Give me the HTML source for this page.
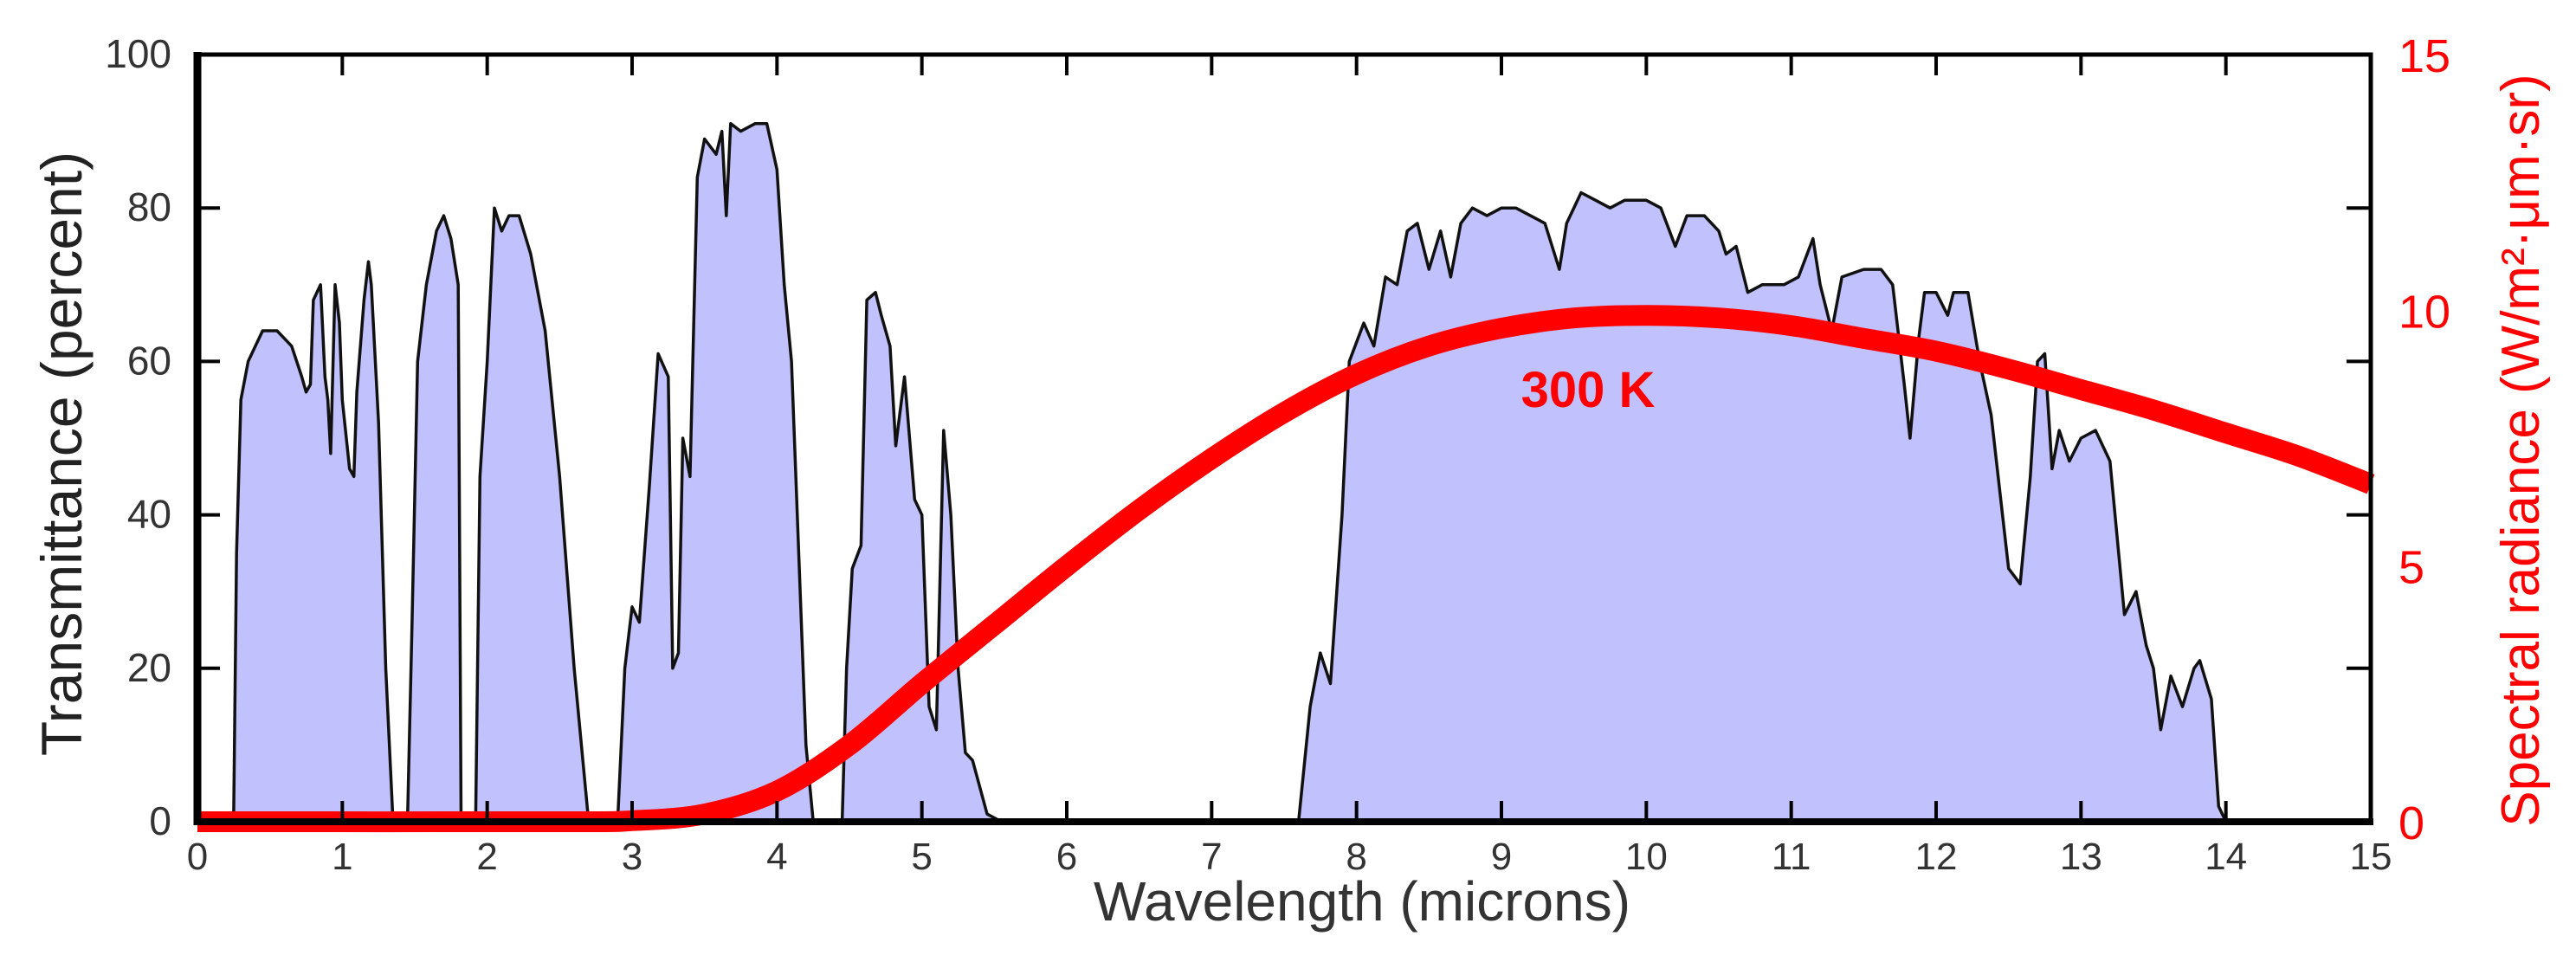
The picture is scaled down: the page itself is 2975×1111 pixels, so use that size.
<!DOCTYPE html>
<html><head><meta charset="utf-8"><style>
html,body{margin:0;padding:0;background:#fff}
svg{display:block}
text{font-family:"Liberation Sans",Arial,sans-serif}
</style></head><body>
<svg id="chart" width="2975" height="1111" viewBox="0 0 2975 1111" xmlns="http://www.w3.org/2000/svg">
<g id="plot"></g>
<g id="axes"></g>
<text x="0" y="0" transform="translate(94,524) rotate(-90)" text-anchor="middle" font-size="66" fill="#222">Transmittance (percent)</text>
<text x="1573" y="1063" text-anchor="middle" font-size="64" fill="#333">Wavelength (microns)</text>
<text transform="translate(2932,520) rotate(-90)" text-anchor="middle" font-size="62" fill="#ff0000">Spectral radiance (W/m²·μm·sr)</text>
<text x="1834" y="470" text-anchor="middle" font-size="58" font-weight="bold" fill="#ff0000">300 K</text>
</svg>
<script>
const transWl = [0,0.25,0.27,0.3,0.35,0.45,0.55,0.65,0.72,0.75,0.78,0.8,0.85,0.88,0.9,0.92,0.95,0.98,1.0,1.05,1.08,1.1,1.15,1.18,1.2,1.25,1.3,1.35,
1.45,1.48,1.52,1.58,1.65,1.7,1.75,1.8,1.82,
1.92,1.95,2.0,2.05,2.1,2.15,2.22,2.3,2.4,2.5,2.6,2.7,
2.9,2.95,3.0,3.05,3.12,3.18,3.25,3.28,3.32,3.35,3.4,3.45,3.5,3.58,3.62,3.65,3.68,3.75,3.85,3.93,4.0,4.05,4.1,4.2,4.25,
4.45,4.48,4.52,4.58,4.62,4.68,4.72,4.78,4.82,4.88,4.95,5.0,5.05,5.1,5.15,5.2,5.25,5.3,5.35,5.45,5.55,
7.6,7.68,7.75,7.82,7.9,7.95,8.05,8.12,8.2,8.28,8.35,8.42,8.5,8.58,8.65,8.72,8.8,8.9,9.0,9.1,9.2,9.3,9.4,9.45,9.55,9.65,9.75,9.85,10.0,10.1,10.2,10.28,10.4,10.5,10.55,10.62,10.7,10.8,10.95,11.05,11.15,11.2,11.28,11.35,11.5,11.62,11.7,11.78,11.82,11.88,11.92,12.0,12.08,12.12,12.22,12.3,12.38,12.5,12.58,12.65,12.7,12.75,12.8,12.85,12.92,13.0,13.1,13.2,13.3,13.38,13.45,13.5,13.55,13.62,13.7,13.78,13.82,13.9,13.95,14.0,15];
const transPct = [0,0,35,55,60,64,64,62,58,56,57,68,70,58,55,48,70,65,55,46,45,56,68,73,70,52,20,0,
0,25,60,70,77,79,76,70,0,
0,45,60,80,77,79,79,74,64,45,20,0,
0,20,28,26,44,61,58,20,22,50,45,84,89,87,90,79,91,90,91,91,85,70,60,10,0,
0,20,33,36,68,69,66,62,49,58,42,40,15,12,51,40,20,9,8,1,0,
0,15,22,18,40,60,65,62,71,70,77,78,72,77,71,78,80,79,80,80,79,78,72,78,82,81,80,81,81,80,75,79,79,77,74,75,69,70,70,71,76,70,64,71,72,72,70,57,50,63,69,69,66,69,69,60,53,33,31,45,60,61,46,51,47,50,51,47,27,30,23,20,12,19,15,20,21,16,2,0,0];
const radWl = [0,2.5,3,3.5,4,4.5,5,5.5,6,6.5,7,7.5,8,8.5,9,9.5,10,10.5,11,11.5,12,12.5,13,13.5,14,14.5,15];
const radVal = [0,0,0.02,0.15,0.6,1.5,2.7,3.85,5.0,6.1,7.1,8.0,8.75,9.3,9.65,9.85,9.9,9.85,9.7,9.45,9.2,8.85,8.45,8.05,7.6,7.15,6.6];
const xTicks = [0,1,2,3,4,5,6,7,8,9,10,11,12,13,14,15];
const yTicks = [0,20,40,60,80,100];
const y2Ticks = [0,5,10,15];

const L=228,R=2738,T=63,B=949;
const xs=v=>L+(v-0)/(15-0)*(R-L);
const ys=v=>B-(v/100)*(B-T);
const y2s=v=>B-(v/15)*(B-T);
const NS='http://www.w3.org/2000/svg';
const plot=document.getElementById('plot'),axes=document.getElementById('axes');
function mk(tag,parent,attrs){const e=document.createElementNS(NS,tag);for(const k in attrs)e.setAttribute(k,attrs[k]);parent.appendChild(e);return e;}

let d='M'+xs(transWl[0])+','+ys(0);
transWl.forEach((w,i)=>{d+=' L'+xs(w).toFixed(1)+','+ys(transPct[i]).toFixed(1);});
d+=' L'+xs(transWl[transWl.length-1])+','+ys(0)+' Z';
const fill=mk('path',plot,{d:d,fill:'#c1c1fe',stroke:'none'});


let ld='';
transWl.forEach((w,i)=>{ld+=(i?' L':'M')+xs(w).toFixed(1)+','+ys(transPct[i]).toFixed(1);});
const line=mk('path',plot,{d:ld,fill:'none',stroke:'#111','stroke-width':3.5,'stroke-linejoin':'round'});



const frame=mk('rect',axes,{x:L,y:T,width:R-L,height:B-T,fill:'none',stroke:'#000','stroke-width':5});


mk('line',axes,{x1:L,y1:T-3,x2:L,y2:B+4,stroke:'#000','stroke-width':9});
mk('line',axes,{x1:L-4,y1:B,x2:R+3,y2:B,stroke:'#000','stroke-width':8});

xTicks.forEach(t=>{
  const x=xs(t);
  if(t>0&&t<15){
    mk('line',axes,{x1:x,y1:B,x2:x,y2:B-24,stroke:'#000','stroke-width':4});
    mk('line',axes,{x1:x,y1:T,x2:x,y2:T+24,stroke:'#000','stroke-width':4});
  }
  const tx=mk('text',axes,{x:x,y:1004,'text-anchor':'middle','font-size':44,fill:'#333'});
  tx.textContent=t;
  
  
});
yTicks.forEach(t=>{
  const y=ys(t);
  if(t>0&&t<100){
    mk('line',axes,{x1:L,y1:y,x2:L+26,y2:y,stroke:'#000','stroke-width':4});
    mk('line',axes,{x1:R,y1:y,x2:R-28,y2:y,stroke:'#000','stroke-width':4});
  }
  const tx=mk('text',axes,{x:198,y:y+15,'text-anchor':'end','font-size':46,fill:'#333'});
  tx.textContent=t;
  
  
});
y2Ticks.forEach(t=>{
  const tx=mk('text',axes,{x:2770,y:y2s(t)+20,'text-anchor':'start','font-size':54,fill:'#ff0000'});
  tx.textContent=t;
  
  
});

// smooth Catmull-Rom path through radiance points
const pts=radWl.map((w,i)=>[xs(w),y2s(radVal[i])]);
let rd='M'+pts[0][0].toFixed(1)+','+pts[0][1].toFixed(1);
for(let i=0;i<pts.length-1;i++){
  const p0=pts[Math.max(0,i-1)],p1=pts[i],p2=pts[i+1],p3=pts[Math.min(pts.length-1,i+2)];
  const c1=[p1[0]+(p2[0]-p0[0])/6,p1[1]+(p2[1]-p0[1])/6];
  const c2=[p2[0]-(p3[0]-p1[0])/6,p2[1]-(p3[1]-p1[1])/6];
  rd+=' C'+c1[0].toFixed(1)+','+c1[1].toFixed(1)+' '+c2[0].toFixed(1)+','+c2[1].toFixed(1)+' '+p2[0].toFixed(1)+','+p2[1].toFixed(1);
}
const rad=mk('path',plot,{d:rd,fill:'none',stroke:'#ff0000','stroke-width':24,'stroke-linejoin':'round'});


</script>
</body></html>
